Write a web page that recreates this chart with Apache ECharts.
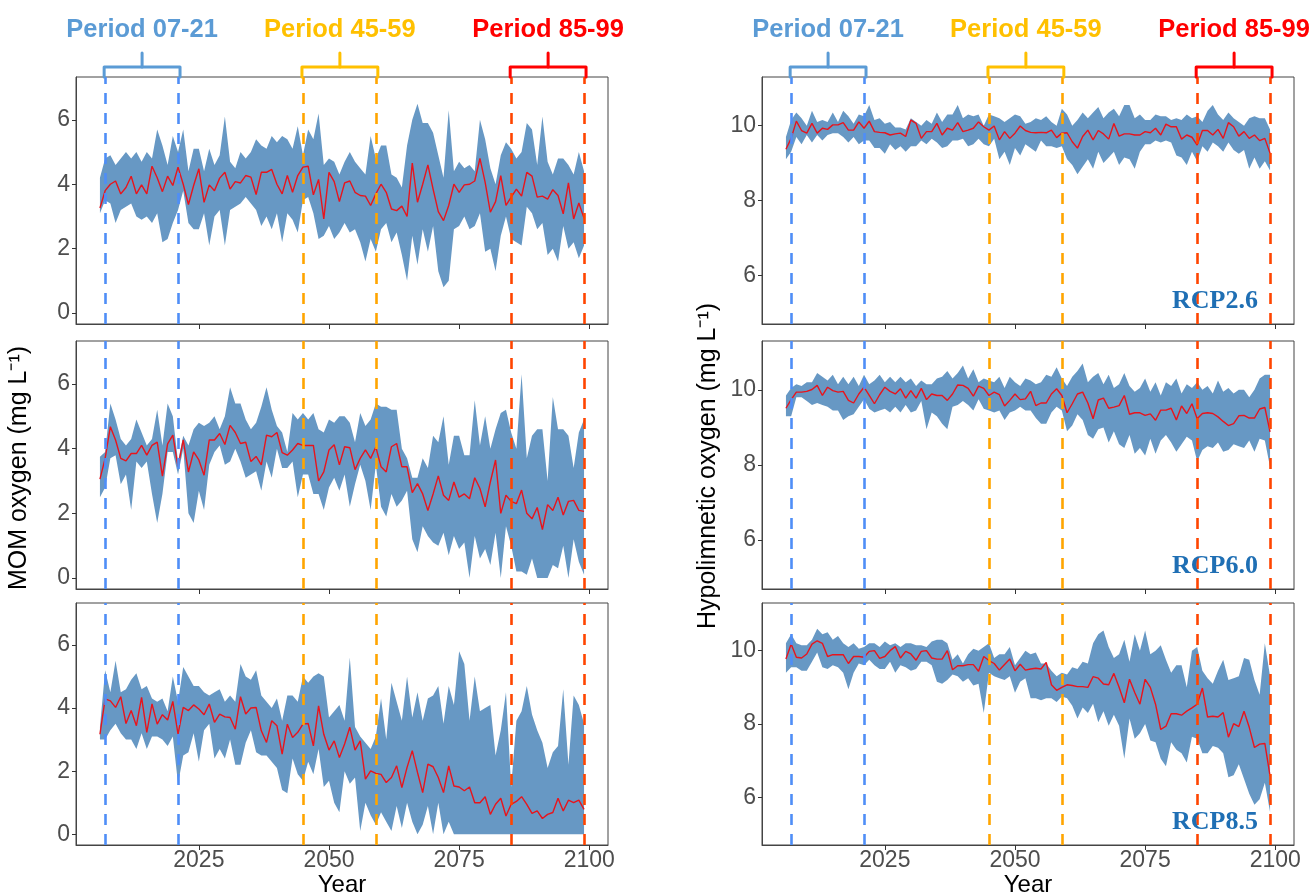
<!DOCTYPE html>
<html>
<head>
<meta charset="utf-8">
<title>MOM and hypolimnetic oxygen projections</title>
<script src="https://cdn.jsdelivr.net/npm/echarts@6/dist/echarts.min.js"></script>
<style>
  html, body { margin: 0; padding: 0; background: #fff; }
  #chart { width: 1311px; height: 894px; }
</style>
</head>
<body>
<div id="chart"></div>
<script>
// ---- data (years 2006-2099) ----
const firstYear = 2006;

// MOM oxygen, RCP2.6
const momMean26 = [3.26, 3.8, 4.0, 4.1, 3.7, 3.9, 4.25, 3.7, 3.98, 3.7,
  4.56, 4.2, 3.77, 4.25, 3.96, 4.53, 4.0, 3.37, 3.96, 4.48,
  3.44, 3.98, 3.8, 4.19, 4.37, 3.85, 4.08, 4.04, 4.27, 4.22,
  3.68, 4.37, 4.37, 4.46, 4.0, 3.7, 4.27, 3.75, 4.27, 4.53,
  4.56, 3.67, 4.15, 2.92, 4.37, 4.08, 3.46, 4.04, 4.1, 3.75,
  3.65, 3.63, 3.34, 3.7, 4.0, 3.75, 3.23, 3.18, 3.32, 3.0,
  4.66, 3.44, 4.0, 4.6, 3.85, 3.15, 2.87, 3.34, 4.0, 3.75,
  3.98, 4.0, 4.1, 4.8, 4.06, 3.13, 3.46, 4.27, 3.34, 3.6,
  3.85, 3.63, 4.37, 4.25, 3.6, 3.63, 3.54, 3.83, 3.65, 3.08,
  4.04, 2.92, 3.42, 2.94];
const momUpper26 = [4.2, 4.8, 4.9, 4.6, 4.8, 5.0, 4.8, 5.0, 4.7, 5.0,
  4.8, 5.7, 5.2, 4.6, 5.5, 5.0, 5.7, 4.4, 5.1, 5.1,
  4.4, 5.1, 4.6, 4.9, 6.1, 4.7, 4.5, 5.0, 4.8, 5.0,
  5.4, 5.2, 5.1, 5.5, 5.3, 5.5, 5.4, 5.1, 5.8, 4.9,
  5.7, 5.4, 6.2, 4.6, 4.8, 4.7, 4.3, 4.7, 5.0, 4.7,
  4.5, 4.3, 5.5, 4.8, 5.2, 5.2, 4.3, 4.2, 3.9, 5.2,
  6.0, 6.5, 5.9, 5.9, 5.6, 4.9, 4.2, 6.3, 4.4, 4.7,
  4.5, 4.6, 4.4, 6.0, 5.4, 4.5, 4.0, 4.9, 5.3, 5.1,
  4.8, 5.0, 5.9, 5.7, 4.6, 6.1, 4.7, 4.3, 4.8, 4.8,
  4.6, 4.3, 5.0, 4.4];
const momLower26 = [3.1, 3.5, 3.4, 2.8, 3.2, 3.3, 3.4, 3.0, 2.9, 3.0,
  2.8, 3.1, 2.2, 2.3, 2.8, 3.2, 3.8, 2.8, 2.6, 2.6,
  3.1, 2.1, 3.0, 3.2, 2.1, 3.2, 3.3, 3.4, 3.6, 3.4,
  3.2, 2.7, 3.0, 2.6, 3.1, 2.2, 3.1, 2.9, 2.5, 3.5,
  3.6, 3.1, 2.3, 2.4, 2.7, 2.3, 2.5, 2.8, 2.5, 2.6,
  2.2, 1.6, 2.3, 1.9, 2.6, 2.8, 2.2, 2.5, 1.8, 1.0,
  2.4, 1.5, 2.6, 1.9, 2.7, 1.3, 0.8, 1.0, 2.6, 2.7,
  3.0, 2.6, 2.7, 3.1, 1.9, 2.0, 1.3, 2.4, 3.0, 2.3,
  2.2, 2.1, 3.3, 3.1, 2.6, 2.8, 1.8, 2.0, 1.6, 2.7,
  2.0, 2.2, 1.7, 2.1];

// MOM oxygen, RCP6.0
const momMean60 = [3.06, 3.7, 4.68, 4.27, 3.7, 3.62, 3.85, 3.85, 4.1, 3.8,
  4.1, 4.2, 3.15, 4.15, 4.42, 3.44, 4.27, 3.28, 3.9, 3.65,
  3.18, 4.27, 4.27, 4.47, 4.13, 4.72, 4.5, 4.16, 4.2, 3.6,
  3.76, 3.5, 4.42, 4.37, 4.5, 3.88, 3.8, 3.96, 4.16, 4.1,
  4.1, 4.1, 3.0, 3.28, 3.96, 4.12, 3.5, 4.06, 4.03, 3.35,
  3.7, 3.96, 3.7, 4.05, 3.44, 3.28, 4.06, 4.16, 3.44, 3.44,
  2.64, 2.92, 2.6, 2.09, 2.6, 3.16, 2.56, 2.4, 2.97, 2.5,
  2.6, 2.45, 3.1, 2.77, 2.2, 2.97, 3.65, 2.0, 2.56, 2.37,
  2.3, 2.72, 2.0, 1.83, 2.18, 1.5, 2.27, 2.09, 2.5, 1.95,
  2.37, 2.4, 2.09, 2.06];
const momUpper60 = [3.75, 3.9, 5.4, 4.9, 4.3, 4.1, 4.3, 4.9, 4.5, 4.1,
  4.3, 5.2, 4.1, 5.4, 5.0, 3.6, 4.4, 4.1, 4.6, 4.8,
  4.7, 4.8, 5.0, 4.6, 5.0, 5.9, 5.4, 5.4, 4.9, 4.6,
  4.8, 5.3, 5.9, 5.2, 4.7, 4.5, 3.9, 5.1, 4.9, 5.1,
  4.9, 5.1, 4.6, 4.5, 4.9, 4.8, 5.0, 5.0, 4.8, 4.2,
  5.1, 4.7, 4.9, 5.4, 5.3, 5.3, 5.2, 5.2, 4.0, 3.7,
  3.1, 3.1, 3.7, 3.4, 4.4, 4.2, 5.0, 3.5, 4.4, 4.4,
  3.8, 3.8, 5.5, 4.1, 5.0, 4.0, 4.6, 5.1, 5.2, 4.5,
  4.0, 6.3, 3.7, 4.4, 4.6, 4.6, 3.0, 5.6, 4.6, 4.6,
  4.4, 3.4, 4.5, 4.9];
const momLower60 = [2.5, 2.8, 3.7, 3.8, 2.9, 3.2, 2.1, 3.6, 3.4, 3.6,
  2.6, 1.7, 2.6, 3.9, 3.9, 3.2, 4.0, 2.0, 1.7, 2.7,
  2.1, 3.5, 3.9, 4.1, 3.5, 3.6, 4.0, 3.6, 3.1, 3.2,
  3.3, 2.7, 3.6, 3.1, 4.0, 3.4, 3.4, 3.6, 2.5, 3.2,
  3.2, 2.6, 2.6, 2.1, 2.8, 3.1, 2.7, 3.2, 2.2, 2.9,
  3.5, 3.0, 2.1, 3.5, 2.2, 1.9, 2.6, 2.2, 2.4, 2.7,
  1.2, 0.8, 1.6, 1.3, 1.1, 1.0, 1.4, 0.7, 1.3, 0.9,
  1.1, 0.0, 1.3, 0.6, 0.9, 0.4, 1.4, 0.0, 1.6, 1.0,
  0.2, 0.2, 0.1, 0.6, 0.0, 0.0, 0.0, 0.4, 0.3, 1.0,
  0.0, 1.2, 0.5, 0.1];

// MOM oxygen, RCP8.5
const momMean85 = [3.17, 4.29, 4.23, 4.02, 4.36, 3.51, 3.92, 3.44, 4.34, 3.23,
  4.13, 3.49, 3.79, 3.62, 4.21, 3.17, 4.02, 3.92, 4.1, 3.97,
  3.79, 4.13, 3.55, 3.81, 3.72, 3.7, 3.33, 4.36, 3.81, 4.0,
  4.02, 3.28, 2.91, 3.6, 3.44, 2.54, 3.49, 3.07, 3.23, 3.49,
  3.51, 2.8, 4.07, 3.17, 2.67, 2.96, 2.43, 2.86, 3.39, 2.67,
  2.96, 1.75, 2.01, 1.93, 1.9, 1.64, 1.8, 2.17, 1.48, 2.12,
  2.65, 1.96, 1.32, 2.22, 2.14, 1.8, 1.32, 2.17, 1.53, 1.5,
  1.38, 1.5, 1.0, 1.0, 1.19, 0.63, 0.95, 1.14, 0.58, 0.95,
  1.04, 1.19, 0.95, 0.66, 0.74, 0.5, 0.63, 0.69, 1.14, 0.74,
  1.08, 1.0, 1.08, 0.79];
const momUpper85 = [3.4, 5.2, 4.5, 5.5, 4.5, 4.6, 4.9, 5.1, 4.6, 4.7,
  4.3, 4.2, 4.3, 3.9, 5.0, 4.2, 5.3, 5.0, 4.7, 4.7,
  4.5, 4.4, 4.5, 4.6, 4.2, 4.4, 4.2, 5.4, 5.0, 4.9,
  5.2, 4.4, 4.2, 4.0, 4.3, 3.6, 4.4, 4.4, 4.2, 5.0,
  4.8, 5.0, 5.1, 5.0, 3.7, 3.9, 4.1, 3.6, 5.6, 3.4,
  3.1, 2.9, 2.7, 3.1, 4.3, 3.0, 4.8, 4.2, 3.6, 5.0,
  3.7, 4.5, 3.6, 4.3, 4.4, 4.7, 3.5, 4.7, 4.1, 5.8,
  5.4, 3.6, 5.0, 3.9, 4.0, 4.1, 2.5, 3.3, 4.5, 1.5,
  3.6, 3.9, 4.7, 3.8, 3.3, 2.9, 2.1, 2.6, 2.8, 4.6,
  2.2, 4.4, 4.1, 3.5];
const momLower85 = [3.0, 3.0, 3.3, 3.5, 3.2, 3.0, 3.0, 2.7, 3.2, 2.7,
  3.1, 3.1, 3.0, 2.8, 3.1, 1.6, 2.5, 2.6, 3.2, 2.3,
  3.3, 3.5, 2.4, 2.7, 2.4, 3.0, 2.2, 2.2, 2.9, 3.3,
  2.6, 2.5, 2.5, 2.3, 2.1, 1.4, 1.3, 2.4, 1.9, 1.7,
  2.3, 1.9, 2.7, 1.5, 1.7, 1.0, 0.7, 2.0, 1.6, 1.8,
  0.1, 1.0, 0.6, 0.3, 0.7, 0.4, 0.1, 0.9, 0.2, 1.0,
  0.4, 0.0, 0.3, 0.9, 0.0, 1.0, 0.0, 0.4, 0.0, 0.0,
  0.0, 0.0, 0.0, 0.0, 0.0, 0.0, 0.0, 0.0, 0.0, 0.0,
  0.0, 0.0, 0.0, 0.0, 0.0, 0.0, 0.0, 0.0, 0.0, 0.0,
  0.0, 0.0, 0.0, 0.0];

// Hypolimnetic oxygen, RCP2.6
const hypoMean26 = [9.37, 9.66, 10.12, 9.87, 9.8, 10.06, 9.8, 9.93, 9.9, 10.02,
  10.02, 10.08, 9.88, 9.88, 10.1, 9.93, 10.12, 9.84, 9.82, 9.81,
  9.75, 9.78, 9.8, 9.71, 10.15, 10.06, 9.66, 9.84, 9.84, 10.06,
  9.75, 9.93, 9.88, 10.08, 9.84, 9.88, 9.93, 10.1, 9.97, 9.88,
  9.99, 9.62, 9.84, 9.66, 9.8, 9.99, 9.87, 9.82, 9.81, 9.82,
  9.81, 9.88, 9.68, 9.8, 9.81, 9.57, 9.4, 9.71, 9.88, 9.62,
  9.87, 9.78, 9.64, 10.06, 9.72, 9.78, 9.78, 9.75, 9.75, 9.84,
  9.81, 9.93, 9.75, 10.04, 9.97, 9.97, 9.64, 9.75, 9.69, 9.48,
  9.87, 9.87, 9.75, 9.9, 9.66, 10.08, 9.97, 9.72, 9.84, 9.66,
  9.75, 9.6, 9.66, 9.26];
const hypoUpper26 = [9.7, 10.15, 10.35, 10.2, 10.0, 10.4, 10.1, 10.15, 10.1, 10.35,
  10.1, 10.4, 10.25, 10.05, 10.3, 10.25, 10.55, 10.15, 10.2, 10.05,
  10.1, 9.95, 9.95, 9.9, 10.2, 10.1, 10.0, 10.15, 10.05, 10.35,
  10.1, 10.3, 10.3, 10.55, 10.2, 10.3, 10.25, 10.3, 10.0, 10.3,
  10.25, 10.2, 10.1, 10.2, 10.3, 10.25, 10.05, 10.1, 10.2, 10.15,
  10.25, 10.1, 10.0, 10.45, 10.3, 10.0, 10.15, 10.35, 10.2, 10.35,
  10.5, 10.2, 10.35, 10.45, 10.25, 10.55, 10.55, 10.2, 10.3, 10.15,
  10.15, 10.3, 10.25, 10.25, 10.15, 10.2, 10.15, 10.3, 10.2, 10.25,
  10.1, 10.4, 10.55, 10.3, 10.15, 10.35, 10.2, 10.1, 10.0, 10.2,
  10.25, 10.2, 10.2, 9.9];
const hypoLower26 = [9.1, 9.3, 9.7, 9.5, 9.75, 9.55, 9.75, 9.6, 9.75, 9.8,
  9.8, 9.7, 9.55, 9.7, 9.5, 9.6, 9.6, 9.4, 9.4, 9.25,
  9.5, 9.35, 9.45, 9.3, 9.45, 9.45, 9.6, 9.5, 9.65, 9.55,
  9.4, 9.45, 9.6, 9.6, 9.65, 9.45, 9.5, 9.65, 9.5, 9.45,
  9.65, 9.1, 9.3, 8.95, 9.4, 9.2, 9.5, 9.4, 9.3, 9.6,
  9.45, 9.45, 9.4, 9.45, 9.1, 8.95, 8.7, 8.9, 9.1, 8.85,
  9.3, 9.0, 9.15, 9.3, 8.95, 9.15, 9.1, 8.85, 9.3, 9.5,
  9.5, 9.6, 9.55, 9.6, 9.55, 9.2, 9.15, 8.95, 9.3, 9.05,
  9.45, 9.3, 9.55, 9.45, 9.3, 9.55, 9.35, 9.25, 9.35, 8.85,
  9.15, 8.85, 9.05, 8.8];

// Hypolimnetic oxygen, RCP6.0
const hypoMean60 = [9.51, 9.74, 9.94, 9.94, 9.96, 10.01, 10.12, 9.85, 10.07, 9.98,
  9.94, 9.96, 9.72, 9.65, 9.89, 10.07, 9.85, 9.63, 9.87, 10.07,
  9.96, 9.89, 10.03, 9.78, 9.98, 9.78, 10.04, 9.74, 9.89, 9.85,
  9.85, 9.72, 9.89, 10.13, 10.12, 10.04, 9.83, 10.1, 10.04, 9.85,
  9.94, 9.87, 9.57, 9.72, 9.89, 9.74, 9.76, 9.96, 9.58, 9.65,
  9.65, 9.89, 10.03, 9.85, 9.39, 9.63, 9.89, 9.94, 9.65, 9.23,
  9.73, 9.78, 9.51, 9.54, 9.58, 9.85, 9.35, 9.39, 9.39, 9.32,
  9.36, 9.19, 9.46, 9.46, 9.51, 9.2, 9.57, 9.37, 9.63, 9.23,
  9.37, 9.39, 9.37, 9.28, 9.16, 9.05, 9.1, 9.31, 9.32, 9.25,
  9.25, 9.49, 9.53, 8.88];
const hypoUpper60 = [9.85, 10.05, 10.15, 10.1, 10.2, 10.2, 10.45, 10.35, 10.25, 10.4,
  10.15, 10.35, 10.15, 10.35, 10.1, 10.4, 10.15, 10.25, 10.4, 10.2,
  10.35, 10.2, 10.35, 10.2, 10.3, 10.1, 10.25, 10.15, 10.15, 10.3,
  10.35, 10.5, 10.3, 10.45, 10.65, 10.3, 10.55, 10.2, 10.3, 10.25,
  10.2, 10.35, 10.05, 10.35, 10.2, 10.1, 10.3, 10.25, 10.15, 10.2,
  10.4, 10.35, 10.6, 10.3, 10.1, 10.35, 10.5, 10.7, 10.2, 10.35,
  10.45, 10.15, 10.4, 10.05, 10.15, 10.45, 10.1, 9.95, 10.05, 10.3,
  9.95, 10.2, 9.85, 10.2, 10.1, 10.3, 9.9, 10.15, 10.05, 10.2,
  10.0, 10.1, 9.9, 10.25, 9.95, 10.05, 9.9, 10.0, 10.0, 9.8,
  10.0, 10.3, 10.4, 10.4];
const hypoLower60 = [9.3, 9.3, 9.8, 9.8, 9.7, 9.6, 9.65, 9.6, 9.55, 9.45,
  9.45, 9.2, 9.3, 9.35, 9.55, 9.75, 9.5, 9.4, 9.45, 9.5,
  9.4, 9.55, 9.4, 9.6, 9.4, 9.45, 9.7, 8.95, 9.4, 9.3,
  9.1, 8.95, 9.55, 9.6, 9.7, 9.6, 9.45, 9.75, 9.5, 9.45,
  9.4, 9.45, 9.2, 9.4, 9.45, 9.55, 9.45, 9.45, 9.25, 9.1,
  9.1, 9.4, 9.55, 9.45, 8.9, 9.05, 9.35, 9.2, 8.8, 8.7,
  8.95, 9.0, 8.6, 8.9, 8.55, 8.45, 8.8, 8.3, 8.45, 8.25,
  8.7, 8.3, 8.65, 8.8, 8.6, 8.35, 8.55, 8.75, 8.65, 8.1,
  8.4, 8.5, 8.45, 8.6, 8.35, 8.4, 8.55, 8.5, 8.45, 8.65,
  8.35, 8.7, 8.65, 7.95];

// Hypolimnetic oxygen, RCP8.5
const hypoMean85 = [9.77, 10.18, 9.82, 9.8, 9.91, 10.18, 10.27, 10.2, 9.84, 9.89,
  9.89, 9.89, 9.65, 9.84, 9.84, 9.82, 9.98, 10.0, 9.79, 9.84,
  10.0, 10.11, 9.8, 9.98, 9.91, 9.74, 9.98, 10.0, 9.8, 9.77,
  9.77, 10.0, 9.48, 9.59, 9.59, 9.62, 9.62, 9.44, 9.84, 9.73,
  9.65, 9.47, 9.62, 9.77, 9.45, 9.63, 9.47, 9.5, 9.52, 9.5,
  9.68, 9.07, 8.92, 9.0, 9.07, 9.05, 9.02, 9.02, 9.0, 9.29,
  9.25, 9.09, 9.07, 9.38, 9.0, 8.58, 9.22, 8.86, 8.54, 9.22,
  9.0, 8.54, 7.85, 7.94, 8.28, 8.28, 8.24, 8.35, 8.44, 8.54,
  8.98, 8.19, 8.21, 8.19, 8.31, 7.64, 8.01, 7.93, 8.35, 7.91,
  7.36, 7.45, 7.47, 6.58];
const hypoUpper85 = [10.2, 10.45, 10.2, 10.15, 10.15, 10.3, 10.6, 10.45, 10.5, 10.3,
  10.4, 10.2, 10.1, 10.2, 10.05, 10.1, 10.2, 10.2, 10.1, 10.25,
  10.15, 10.2, 10.1, 10.2, 10.2, 10.15, 10.15, 10.1, 10.25, 10.3,
  10.3, 10.2, 9.75, 9.9, 9.65, 9.9, 10.05, 10.0, 10.1, 10.2,
  9.8, 9.9, 9.9, 10.1, 9.6, 9.8, 10.0, 9.9, 9.95, 9.65,
  9.65, 9.45, 9.3, 9.4, 9.35, 9.55, 9.5, 9.7, 9.65, 10.2,
  10.45, 10.55, 10.1, 9.8, 9.9, 10.3, 9.7, 10.45, 10.0, 10.55,
  9.9, 10.0, 10.15, 9.75, 9.4, 9.6, 9.6, 9.0, 10.0, 10.1,
  9.45, 9.25, 9.1, 9.45, 9.75, 9.2, 9.25, 9.3, 9.8, 9.75,
  9.2, 8.8, 10.2, 9.3];
const hypoLower85 = [9.4, 9.55, 9.55, 9.45, 9.45, 9.7, 9.95, 9.55, 9.5, 9.6,
  9.55, 9.4, 8.95, 9.4, 9.65, 9.6, 9.75, 9.6, 9.5, 9.5,
  9.7, 9.4, 9.6, 9.55, 9.45, 9.5, 9.7, 9.7, 9.6, 9.15,
  9.1, 9.2, 9.35, 9.3, 9.15, 9.25, 9.05, 9.1, 8.3, 9.4,
  9.3, 9.25, 9.2, 9.3, 8.85, 9.15, 9.25, 8.7, 8.7, 8.65,
  8.7, 8.7, 8.6, 8.75, 8.7, 8.5, 8.15, 8.45, 8.3, 8.55,
  8.05, 8.35, 7.95, 8.25, 7.95, 7.05, 8.15, 7.6, 7.75, 8.0,
  7.55, 7.5, 7.05, 6.85, 7.5, 7.3, 7.2, 6.95, 7.65, 7.6,
  7.2, 7.2, 7.4, 7.35, 7.2, 6.55, 6.6, 6.9, 6.5, 6.1,
  5.8, 5.95, 6.4, 5.6];

const xTickValues = [2025, 2050, 2075, 2100];
const momTickValues = [0, 2, 4, 6];
const hypoTickValues = [6, 8, 10];
const periodLabels = ['Period 07-21', 'Period 45-59', 'Period 85-99'];
const periodStart = [2007, 2045, 2085];
const periodEnd = [2021, 2059, 2099];
const scenarioLabels = ['RCP2.6', 'RCP6.0', 'RCP8.5'];

// ---- layout / style ----
const years = momMean26.map((_, i) => firstYear + i);
const BAND = '#6798c4';
const MEAN = '#e8141c';
const periodTextColors = ['#5b9bd5', '#ffc000', '#ff0000'];
const periodLineColors = ['#4f8ef7', '#ffa500', '#ff4500'];
const FONT = '"Liberation Sans", Arial, sans-serif';

const colLeft = [76, 762];
const colWidth = 532;
const rowTop = [77, 341, 603];
const rowHeight = [247, 248, 242];

const panels = [
  { mean: momMean26, upper: momUpper26, lower: momLower26 },
  { mean: momMean60, upper: momUpper60, lower: momLower60 },
  { mean: momMean85, upper: momUpper85, lower: momLower85 },
  { mean: hypoMean26, upper: hypoUpper26, lower: hypoLower26 },
  { mean: hypoMean60, upper: hypoUpper60, lower: hypoLower60 },
  { mean: hypoMean85, upper: hypoUpper85, lower: hypoLower85 }
];

const grids = [], xAxes = [], yAxes = [], series = [];

panels.forEach((p, i) => {
  const col = i < 3 ? 0 : 1;
  const row = i % 3;
  const isMom = col === 0;
  const isBottom = row === 2;
  const yTicks = isMom ? momTickValues : hypoTickValues;

  grids.push({
    left: colLeft[col], top: rowTop[row], width: colWidth, height: rowHeight[row],
    outerBoundsMode: 'none', containLabel: false,
    show: true, borderColor: '#444', borderWidth: 1, backgroundColor: '#fff'
  });

  xAxes.push({
    gridIndex: i, type: 'value', min: 2001.4, max: 2103.6,
    splitLine: { show: false },
    axisLine: { show: true, onZero: false, lineStyle: { color: '#444', width: 1 } },
    axisTick: { show: true, length: 5, customValues: xTickValues, lineStyle: { color: '#333' } },
    axisLabel: {
      show: isBottom, customValues: xTickValues, color: '#4d4d4d',
      fontSize: 23, fontFamily: FONT, margin: 4, formatter: v => String(v)
    },
    name: isBottom ? 'Year' : '', nameLocation: 'middle', nameGap: 27,
    nameTextStyle: { fontSize: 24, color: '#000', fontFamily: FONT }
  });

  yAxes.push({
    gridIndex: i, type: 'value',
    min: isMom ? -0.34 : 4.7, max: isMom ? 7.33 : 11.3,
    splitLine: { show: false },
    axisLine: { show: true, onZero: false, lineStyle: { color: '#444', width: 1 } },
    axisTick: { show: true, length: 4, customValues: yTicks, lineStyle: { color: '#333' } },
    axisLabel: {
      customValues: yTicks, color: '#4d4d4d', fontSize: 23, fontFamily: FONT, margin: 6
    }
  });

  // min-max envelope, drawn as one polygon through the axis scales
  series.push({
    type: 'custom', xAxisIndex: i, yAxisIndex: i, silent: true, z: 1,
    data: [[years[0], p.lower[0]]],
    renderItem: (params, api) => {
      const pts = [];
      years.forEach((yr, k) => pts.push(api.coord([yr, p.upper[k]])));
      for (let k = years.length - 1; k >= 0; k--) pts.push(api.coord([years[k], p.lower[k]]));
      return { type: 'polygon', shape: { points: pts }, style: { fill: BAND } };
    }
  });

  // period boundaries
  const marks = [];
  periodStart.forEach((s, k) => {
    [s, periodEnd[k]].forEach(yr => marks.push({
      xAxis: yr, lineStyle: { color: periodLineColors[k], type: [11, 9], width: 2.6 }
    }));
  });
  series.push({
    type: 'line', xAxisIndex: i, yAxisIndex: i, data: [], silent: true, z: 2,
    markLine: { symbol: ['none', 'none'], silent: true, label: { show: false }, data: marks }
  });

  // ensemble mean
  series.push({
    type: 'line', xAxisIndex: i, yAxisIndex: i, z: 3,
    data: years.map((yr, k) => [yr, p.mean[k]]),
    showSymbol: false, symbol: 'none',
    lineStyle: { color: MEAN, width: 1.4 }
  });
});

const chart = echarts.init(document.getElementById('chart'));
chart.setOption({
  animation: false,
  backgroundColor: '#fff',
  textStyle: { fontFamily: FONT },
  grid: grids,
  xAxis: xAxes,
  yAxis: yAxes,
  series: series
});

// overlay: brackets, period names, scenario names, axis titles
const graphics = [];
[0, 3].forEach(gi => {
  const top = rowTop[0];
  periodStart.forEach((s, k) => {
    const x1 = chart.convertToPixel({ xAxisIndex: gi }, s) - 1;
    const x2 = chart.convertToPixel({ xAxisIndex: gi }, periodEnd[k]) + 2;
    const xm = (x1 + x2) / 2;
    const yh = top - 10;
    const stroke = { stroke: periodTextColors[k], lineWidth: 3, fill: null, lineJoin: 'round', lineCap: 'round' };
    graphics.push({ type: 'polyline', silent: true, z: 100,
      shape: { points: [[x1, top], [x1, yh], [x2, yh], [x2, top]] }, style: stroke });
    graphics.push({ type: 'line', silent: true, z: 100,
      shape: { x1: xm, y1: yh, x2: xm, y2: yh - 14 }, style: stroke });
    graphics.push({ type: 'text', silent: true, z: 100, x: xm, y: 30,
      style: { text: periodLabels[k], fill: periodTextColors[k], font: 'bold 25.5px ' + FONT,
        textAlign: 'center', textVerticalAlign: 'middle', align: 'center', verticalAlign: 'middle' } });
  });
});
scenarioLabels.forEach((label, row) => {
  graphics.push({ type: 'text', silent: true, z: 100,
    x: colLeft[1] + colWidth - 36, y: rowTop[row] + rowHeight[row] - 23,
    style: { text: label, fill: '#1f6fb4', font: 'bold 26px "Liberation Serif", "Times New Roman", serif',
      textAlign: 'right', textVerticalAlign: 'middle', align: 'right', verticalAlign: 'middle' } });
});
[['MOM oxygen (mg L\u207B\u00B9)', 19, 468], ['Hypolimnetic oxygen (mg L\u207B\u00B9)', 708, 466]].forEach(([t, x, y]) => {
  graphics.push({ type: 'text', silent: true, z: 100, x: x, y: y, rotation: Math.PI / 2,
    style: { text: t, fill: '#000', font: '25px ' + FONT,
      textAlign: 'center', textVerticalAlign: 'middle', align: 'center', verticalAlign: 'middle' } });
});
chart.setOption({ graphic: graphics });
</script>
</body>
</html>
